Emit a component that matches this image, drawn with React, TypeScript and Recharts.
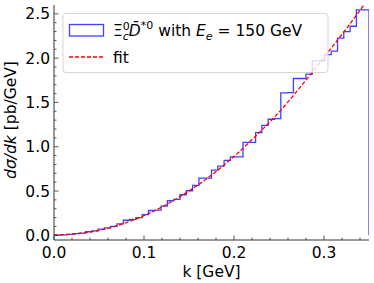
import React from "react";
import { LineChart, Line, XAxis, YAxis } from "recharts";

// histogram bin left edges (GeV), bin width 0.007
const binEdges = [
  0.0, 0.007, 0.014, 0.021, 0.028, 0.035, 0.042, 0.049, 0.056, 0.063,
  0.07, 0.077, 0.084, 0.091, 0.098, 0.105, 0.112, 0.119, 0.126, 0.133,
  0.14, 0.147, 0.154, 0.161, 0.168, 0.175, 0.182, 0.189, 0.196, 0.203,
  0.21, 0.217, 0.224, 0.231, 0.238, 0.245, 0.252, 0.259, 0.266, 0.273,
  0.28, 0.287, 0.294, 0.301, 0.308, 0.315, 0.322, 0.329, 0.336, 0.343,
];
const binValues = [
  0.002, 0.004, 0.01, 0.018, 0.025, 0.04, 0.05, 0.07, 0.085, 0.1,
  0.128, 0.17, 0.18, 0.2, 0.233, 0.28, 0.285, 0.33, 0.39, 0.405,
  0.458, 0.503, 0.563, 0.645, 0.645, 0.736, 0.78, 0.845, 0.886, 0.886,
  1.05, 1.05, 1.16, 1.24, 1.31, 1.318, 1.607, 1.61, 1.77, 1.77,
  1.82, 1.97, 1.97, 2.04, 2.08, 2.226, 2.3, 2.36, 2.545, 2.545,
];
const kMax = 0.35;

// fitted curve
const fitK = [0, 0.025, 0.05, 0.075, 0.1, 0.125, 0.15, 0.175, 0.2, 0.225, 0.25, 0.275, 0.3, 0.325, 0.35];
const fitValues = [0.004, 0.017, 0.056, 0.125, 0.222, 0.348, 0.5, 0.68, 0.89, 1.13, 1.39, 1.69, 2.01, 2.335, 2.68];

const xMajor = [0, 0.1, 0.2, 0.3];
const xTicks = [0, 0.02, 0.04, 0.06, 0.08, 0.1, 0.12, 0.14, 0.16, 0.18, 0.2, 0.22, 0.24, 0.26, 0.28, 0.3, 0.32, 0.34];
const yMajor = [0, 0.5, 1, 1.5, 2, 2.5];
const yTicks = [
  0, 0.1, 0.2, 0.3, 0.4, 0.5, 0.6, 0.7, 0.8, 0.9, 1, 1.1, 1.2, 1.3,
  1.4, 1.5, 1.6, 1.7, 1.8, 1.9, 2, 2.1, 2.2, 2.3, 2.4, 2.5,
];

const histData = [
  { k: 0, v: 0 },
  ...binEdges.map((k, i) => ({ k, v: binValues[i] })),
  { k: kMax, v: binValues[binValues.length - 1] },
  { k: kMax, v: 0 },
];
const fitData = fitK.map((k, i) => ({ k, v: fitValues[i] }));

const FONT = "DejaVu Sans, sans-serif";
const AXIS = "#333";

const isMajor = (list: number[], v: number) => list.some((m) => Math.abs(m - v) < 1e-9);

const XTick = (props: any) => {
  const { x, y, payload } = props;
  const major = isMajor(xMajor, payload.value);
  return (
    <g>
      <line x1={x} x2={x} y1={y} y2={y - (major ? 4.5 : 2.5)} stroke={AXIS} strokeWidth={0.8} />
      {major && (
        <text x={x} y={y + 18} textAnchor="middle" fontSize={15.5} fontFamily={FONT} fill="#000">
          {payload.value.toFixed(1)}
        </text>
      )}
    </g>
  );
};

const YTick = (props: any) => {
  const { x, y, payload } = props;
  const major = isMajor(yMajor, payload.value);
  return (
    <g>
      <line x1={x} x2={x + (major ? 4.5 : 2.5)} y1={y} y2={y} stroke={AXIS} strokeWidth={0.8} />
      {major && (
        <text x={x - 4} y={y} dy="0.36em" textAnchor="end" fontSize={15.5} fontFamily={FONT} fill="#000">
          {payload.value.toFixed(1)}
        </text>
      )}
    </g>
  );
};

const Overlay = () => (
  <svg
    width={374}
    height={283}
    style={{ position: "absolute", left: 0, top: 0, pointerEvents: "none" }}
  >
    <text
      transform="translate(16,120) rotate(-90)"
      textAnchor="middle"
      fontSize={15.5}
      fontFamily={FONT}
      fill="#000"
    >
      <tspan fontStyle="italic">dσ/dk</tspan>
      <tspan> [pb/GeV]</tspan>
    </text>
    <text x={211.5} y={277} textAnchor="middle" fontSize={15.5} fontFamily={FONT} fill="#000">
      k [GeV]
    </text>

    <rect x={63} y={13.5} width={265} height={59} rx={3} fill="#fff" fillOpacity={0.8} stroke="#ccc" strokeOpacity={0.8} />
    <rect x={69.5} y={24.5} width={34} height={11.5} fill="none" stroke="#0000ff" strokeOpacity={0.75} strokeWidth={1.3} />
    <line x1={69} x2={103} y1={57} y2={57} stroke="#ff0000" strokeDasharray="4 2" strokeWidth={1.3} />
    <text x={113} y={36} fontSize={15.5} fontFamily={FONT} fill="#000">
      <tspan>Ξ</tspan>
      <tspan dy={-6} fontSize={11}>0</tspan>
      <tspan dx={-7} dy={10} fontSize={11} fontStyle="italic">c</tspan>
      <tspan dy={-4} fontStyle="italic">D̄</tspan>
      <tspan dy={-7} fontSize={11}>*0</tspan>
      <tspan dy={7}> with </tspan>
      <tspan fontStyle="italic">E</tspan>
      <tspan dy={4} fontSize={11} fontStyle="italic">e</tspan>
      <tspan dy={-4}> = 150 GeV</tspan>
    </text>
    <text x={113} y={63} fontSize={15.5} fontFamily={FONT} fill="#000">
      fit
    </text>
  </svg>
);

export default function App() {
  return (
    <div style={{ position: "absolute", left: 0, top: 0, width: 374, height: 283, background: "#fff" }}>
      <LineChart width={374} height={283} margin={{ top: 5, right: 5, bottom: 0, left: 0 }}>
        <XAxis
          xAxisId="b"
          dataKey="k"
          type="number"
          domain={[0, kMax]}
          ticks={xTicks}
          interval={0}
          height={43}
          tickSize={0}
          tickMargin={0}
          tickLine={false}
          tick={<XTick />}
          axisLine={{ stroke: AXIS, strokeWidth: 1 }}
          allowDataOverflow
        />
        <XAxis
          xAxisId="t"
          orientation="top"
          type="number"
          domain={[0, kMax]}
          height={0}
          tick={false}
          tickLine={false}
          axisLine={{ stroke: AXIS, strokeWidth: 1 }}
        />
        <YAxis
          yAxisId="l"
          type="number"
          domain={[-0.053, 2.6]}
          ticks={yTicks}
          interval={0}
          width={54}
          tickSize={0}
          tickMargin={0}
          tickLine={false}
          tick={<YTick />}
          axisLine={{ stroke: AXIS, strokeWidth: 1 }}
          allowDataOverflow
        />
        <YAxis
          yAxisId="r"
          orientation="right"
          type="number"
          domain={[0, 1]}
          width={0}
          tick={false}
          tickLine={false}
          axisLine={{ stroke: AXIS, strokeWidth: 1 }}
        />
        <Line
          xAxisId="b"
          yAxisId="l"
          data={histData}
          dataKey="v"
          type="stepAfter"
          stroke="#0000ff"
          strokeOpacity={0.75}
          strokeWidth={1.3}
          dot={false}
          isAnimationActive={false}
        />
        <Line
          xAxisId="b"
          yAxisId="l"
          data={fitData}
          dataKey="v"
          type="monotone"
          stroke="#ff0000"
          strokeDasharray="4 2"
          strokeWidth={1.3}
          dot={false}
          isAnimationActive={false}
        />
      </LineChart>
      <Overlay />
    </div>
  );
}
